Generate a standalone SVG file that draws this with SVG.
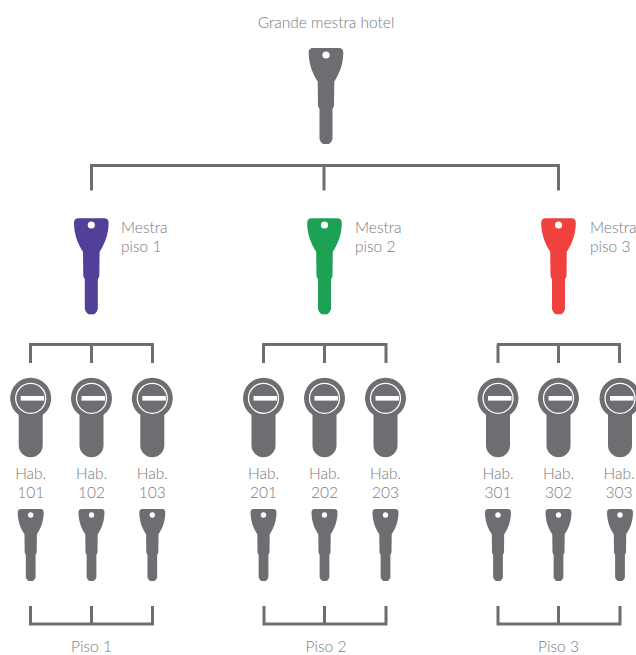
<svg xmlns="http://www.w3.org/2000/svg" width="636" height="655" viewBox="0 0 636 655">
<style>
text{font-family:"Lato","Open Sans",sans-serif;font-weight:300;font-size:15.500px;fill:#77797c;opacity:.99}
.m{text-anchor:middle}
.c{fill:none;stroke:#6d6e71;stroke-width:3}
.g{fill:#6d6e71}
</style>
<defs>
<path id="k" d="M-13 0H13Q17.300 0 17.300 4.500C17.300 15 14 25 8.300 33.500L8 58L6.500 61V91Q6 93.500 3 96H-3Q-6 93.500-6.500 91V61L-8 58L-8.300 33.500C-14 25-17.300 15-17.300 4.500Q-17.300 0-13 0Z"/>
<g id="cy">
<circle r="20.500" class="g"/>
<rect x="-12" y="0" width="24" height="59" rx="12" class="g"/>
<circle r="15" fill="none" stroke="#fff" stroke-width="1.300"/>
<rect x="-10" y="-2.300" width="23.500" height="4.600" fill="#fff"/>
</g>
<g id="sk"><use href="#k" transform="scale(.75)"/><circle cy="6" r="2.700" fill="#fff"/></g>
</defs>
<rect width="636" height="655" fill="#fff"/>
<g id="connectors" class="c">
<path class="c" d="M91.500 190.500V165.500H558.500V190.500M324 165.500V190.500"/>
<path class="c" d="M30.500 363V344.500H152.500V363M91.500 344.500V363"/>
<path class="c" d="M263.500 363V344.500H386V363M324.500 344.500V363"/>
<path class="c" d="M497 344.500H619.500V363M498 344.500V363M558.500 344.500V363"/>
<path class="c" d="M30.500 606V624H152.500V606M91.500 606V624"/>
<path class="c" d="M264 606V624H386V606M324.500 606V624"/>
<path class="c" d="M498 606V624H620V606M558.500 606V624"/>
</g>
<g id="grande"><text class="m" x="326" y="28">Grande mestra hotel</text><use href="#k" class="g" x="326" y="48"/><circle cx="326" cy="55" r="3.600" fill="#fff"/></g>
<g id="mestra1"><use href="#k" x="91.300" y="218.300" fill="#523f98"/><circle cx="91.300" cy="225" r="3.600" fill="#fff"/><text x="121" y="233">Mestra</text><text x="121" y="252">piso 1</text></g>
<g id="mestra2"><use href="#k" x="324.500" y="218.300" fill="#1ca155"/><circle cx="324.500" cy="225" r="3.600" fill="#fff"/><text x="355" y="233">Mestra</text><text x="355" y="252">piso 2</text></g>
<g id="mestra3"><use href="#k" x="558.500" y="218.300" fill="#ef413d"/><circle cx="558.500" cy="225" r="3.600" fill="#fff"/><text x="590" y="233">Mestra</text><text x="590" y="252">piso 3</text></g>
<g id="hab101"><use href="#cy" x="30.700" y="398.300"/><text class="m" x="30.700" y="479">Hab.</text><text class="m" x="30.700" y="498">101</text><use href="#sk" x="30.700" y="509" class="g"/></g>
<g id="hab102"><use href="#cy" x="91.500" y="398.300"/><text class="m" x="91.500" y="479">Hab.</text><text class="m" x="91.500" y="498">102</text><use href="#sk" x="91.500" y="509" class="g"/></g>
<g id="hab103"><use href="#cy" x="152.300" y="398.300"/><text class="m" x="152.300" y="479">Hab.</text><text class="m" x="152.300" y="498">103</text><use href="#sk" x="152.300" y="509" class="g"/></g>
<g id="hab201"><use href="#cy" x="263.500" y="398.300"/><text class="m" x="263.500" y="479">Hab.</text><text class="m" x="263.500" y="498">201</text><use href="#sk" x="263.500" y="509" class="g"/></g>
<g id="hab202"><use href="#cy" x="324.500" y="398.300"/><text class="m" x="324.500" y="479">Hab.</text><text class="m" x="324.500" y="498">202</text><use href="#sk" x="324.500" y="509" class="g"/></g>
<g id="hab203"><use href="#cy" x="385.500" y="398.300"/><text class="m" x="385.500" y="479">Hab.</text><text class="m" x="385.500" y="498">203</text><use href="#sk" x="385.500" y="509" class="g"/></g>
<g id="hab301"><use href="#cy" x="498" y="398.300"/><text class="m" x="498" y="479">Hab.</text><text class="m" x="498" y="498">301</text><use href="#sk" x="498" y="509" class="g"/></g>
<g id="hab302"><use href="#cy" x="558.500" y="398.300"/><text class="m" x="558.500" y="479">Hab.</text><text class="m" x="558.500" y="498">302</text><use href="#sk" x="558.500" y="509" class="g"/></g>
<g id="hab303"><use href="#cy" x="620" y="398.300"/><text class="m" x="619" y="479">Hab.</text><text class="m" x="619" y="498">303</text><use href="#sk" x="620" y="509" class="g"/></g>
<g id="piso1"><text class="m" x="91.500" y="652">Piso 1</text></g>
<g id="piso2"><text class="m" x="326" y="652">Piso 2</text></g>
<g id="piso3"><text class="m" x="558.500" y="652">Piso 3</text></g>
</svg>
